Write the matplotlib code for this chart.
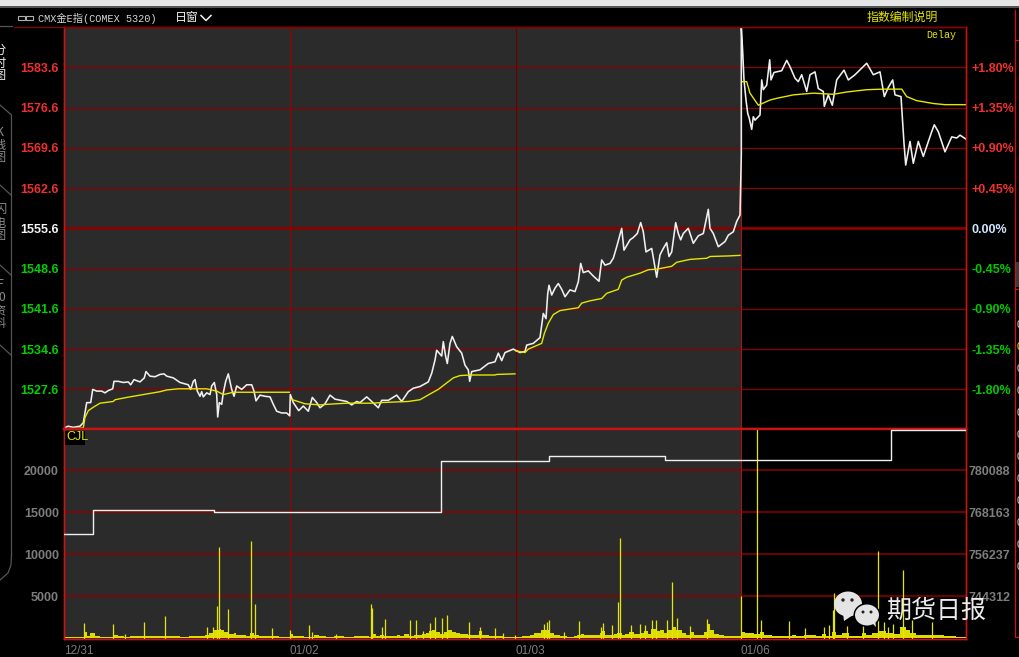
import numpy as np
import matplotlib
matplotlib.use('Agg')
import matplotlib.pyplot as plt
from matplotlib.patches import Ellipse, Rectangle, Polygon

plt.rcParams['font.family'] = ['Liberation Sans', 'Noto Sans CJK SC', 'DejaVu Sans']

# index = one bar per pixel of the x axis, 4 sessions
date_pos = [0, 226, 452, 677]
date_labels = ['12/31', '01/02', '01/03', '01/06']

price_ticks = [1583.6, 1576.6, 1569.6, 1562.6, 1555.6, 1548.6, 1541.6, 1534.6, 1527.6]
pct_ticks = [1.80, 1.35, 0.90, 0.45, 0.00, -0.45, -0.90, -1.35, -1.80]
vol_ticks = [5000, 10000, 15000, 20000]
oi_ticks = [744312, 756237, 768163, 780088]

price_x = [0.7, 4, 9.3, 16, 19.3, 21.3, 22.7, 26.7, 28.7, 32.7, 37.7, 41, 44.3, 48.7, 50, 54.3, 59.3, 64.3, 66.7, 70,
           76, 80.3, 82, 86, 91, 96, 100, 102.7, 109.3, 116, 124.3, 126.7, 129.3, 131, 133.3, 136, 137.7, 139.3, 142.7, 146,
           147.7, 150.3, 152.7, 153.7, 155.3, 157.7, 159.3, 161.7, 164.3, 167.7, 170, 172.7, 177.7, 182.7, 187.7, 190, 192, 196, 201, 206,
           209.3, 212.7, 217.7, 222.7, 225.7, 226.3, 229.3, 234.7, 239.3, 244.3, 248.3, 252.7, 256, 261, 266, 271, 282.7, 287.7, 292.7, 296,
           302.7, 307.7, 314.3, 317.7, 324.3, 332.7, 337.7, 344.3, 349.3, 356, 364.3, 367.7, 371, 372.7, 377.7, 379.3, 381.7, 383.3, 386, 388.3,
           392.7, 397.7, 401, 404.3, 405.7, 407.7, 416, 424.3, 431, 434.3, 437.7, 441, 449.3, 456, 461, 462.7, 469.3, 476, 479.3, 482,
           483.7, 485, 487.7, 491, 494.3, 497.7, 501, 506, 511, 514.3, 516.7, 519.3, 524.3, 529.3, 535, 537.7, 541, 546, 549.3, 552.7,
           557.7, 560, 566, 569.3, 573.3, 576.7, 579.3, 582, 587.7, 590, 592.7, 596, 599.3, 602.7, 605, 607.7, 611.7, 614.3, 616.7, 619.3,
           624.3, 629.3, 634.3, 639.3, 644.3, 646, 649.3, 654.3, 661, 664.3, 669.3, 672.7, 676, 677.3, 677.3, 678.7, 680, 682, 683.7, 685.3,
           687.7, 689.3, 691, 696, 697.7, 699.3, 702.7, 705.7, 707, 710, 717.7, 722.7, 726, 731, 734.3, 737.7, 742.7, 746, 751, 754.3,
           759.3, 760.3, 764.3, 768.3, 772.7, 780, 784.3, 791, 802.7, 809.3, 816, 820.3, 824.3, 828.7, 831, 837, 838.3, 840, 841.7, 846,
           849.3, 854.3, 859.3, 867.7, 870.3, 874.3, 881, 887.7, 892.7, 896, 902]
price_y = [1520.9, 1521.2, 1521.0, 1521.2, 1521.8, 1523.8, 1525.3, 1525.3, 1527.6, 1527.3, 1527.3, 1527.0, 1527.4, 1527.7, 1529.0, 1529.0, 1528.8, 1528.9, 1528.4, 1529.3,
           1528.9, 1529.6, 1530.7, 1529.9, 1529.8, 1530.2, 1530.3, 1529.9, 1529.6, 1528.8, 1528.4, 1527.6, 1529.0, 1529.3, 1527.3, 1526.4, 1527.2, 1526.3, 1527.0, 1526.7,
           1528.2, 1528.8, 1526.7, 1522.8, 1525.3, 1525.0, 1527.0, 1529.0, 1530.3, 1527.6, 1526.4, 1528.2, 1527.6, 1528.4, 1528.4, 1527.3, 1525.6, 1526.6, 1526.4, 1526.3,
           1525.0, 1523.8, 1523.5, 1523.5, 1523.0, 1526.7, 1525.3, 1523.9, 1524.7, 1523.8, 1526.2, 1525.3, 1524.4, 1525.1, 1526.6, 1525.9, 1525.5, 1524.9, 1525.5, 1525.3,
           1526.3, 1525.5, 1524.4, 1525.7, 1525.7, 1526.6, 1525.5, 1527.2, 1527.8, 1528.1, 1528.9, 1530.4, 1532.7, 1534.4, 1533.4, 1535.9, 1533.3, 1532.1, 1535.6, 1536.8,
           1535.0, 1533.9, 1531.8, 1531.0, 1529.0, 1530.7, 1531.0, 1532.1, 1532.4, 1533.9, 1532.6, 1534.0, 1534.6, 1534.0, 1534.2, 1535.3, 1535.6, 1536.6, 1540.8, 1539.9,
           1544.2, 1545.7, 1544.0, 1545.2, 1546.0, 1545.0, 1543.7, 1544.9, 1544.6, 1546.3, 1549.5, 1547.9, 1548.2, 1547.3, 1546.4, 1550.1, 1549.2, 1549.5, 1550.4, 1552.4,
           1555.6, 1551.8, 1553.6, 1554.0, 1554.7, 1556.6, 1555.0, 1551.5, 1552.1, 1549.8, 1547.1, 1551.0, 1552.1, 1553.1, 1550.7, 1551.5, 1556.6, 1554.7, 1553.6, 1554.7,
           1555.6, 1553.0, 1554.3, 1554.7, 1558.9, 1555.6, 1554.7, 1552.4, 1553.3, 1554.4, 1555.0, 1556.8, 1557.9, 1568.4, 1590.6, 1586.3, 1581.4, 1577.9, 1575.6, 1574.7,
           1572.8, 1575.0, 1574.4, 1575.3, 1581.4, 1579.7, 1580.5, 1584.9, 1581.4, 1582.7, 1583.0, 1584.8, 1583.7, 1581.7, 1581.1, 1582.3, 1579.4, 1582.3, 1582.8, 1579.9,
           1579.4, 1576.8, 1578.8, 1577.0, 1581.4, 1583.1, 1581.4, 1582.3, 1584.3, 1582.3, 1582.8, 1578.5, 1580.1, 1581.4, 1578.8, 1578.5, 1575.0, 1570.4, 1566.6, 1570.7,
           1566.9, 1570.7, 1568.1, 1572.4, 1573.6, 1572.4, 1568.9, 1571.5, 1571.3, 1571.8, 1571.1]

# average line restarts every session
avg1_x = [0.7, 19.3, 21, 24.3, 29.3, 36, 49.3, 51, 62.7, 79.3, 96, 102.7, 114.3, 142.7, 152.7, 159.3, 169.3, 189.3, 225.3]
avg1_y = [1520.7, 1520.9, 1522.7, 1523.9, 1524.5, 1525.2, 1525.5, 1525.8, 1526.2, 1526.7, 1527.2, 1527.5, 1527.7, 1527.7, 1527.3, 1526.7, 1527.1, 1527.1, 1527.1]
avg2_x = [226.7, 241, 256, 262.7, 282.7, 309.3, 316, 344.3, 356, 366, 374.3, 381, 389.3, 396, 406, 431, 432.7, 451]
avg2_y = [1525.9, 1525.1, 1524.9, 1525.0, 1525.2, 1525.2, 1525.3, 1525.5, 1525.8, 1526.8, 1527.6, 1528.5, 1529.6, 1530.0, 1530.1, 1530.1, 1530.2, 1530.3]
avg3_x = [451.7, 461, 464.3, 477.7, 480.3, 484.3, 489.3, 496, 514.3, 517.7, 526, 537.7, 542.7, 554.3, 557.7, 562.7, 576, 584.3, 592.7, 607.7, 612.7, 626, 642.7, 646, 664.3, 676]
avg3_y = [1534.3, 1534.0, 1534.6, 1535.6, 1537.3, 1539.1, 1540.6, 1541.3, 1541.8, 1542.6, 1543.0, 1543.4, 1544.3, 1545.0, 1546.6, 1547.1, 1547.8, 1548.4, 1548.5, 1549.0, 1549.7, 1550.2, 1550.4, 1550.7, 1550.8, 1550.9]
avg4_x = [678.7, 682.7, 686, 694.3, 706, 712.7, 729.3, 749.3, 769.3, 782.7, 802.7, 819.3, 837.7, 842.7, 852.7, 869.3, 881, 902]
avg4_y = [1581.1, 1581.1, 1579.1, 1577.0, 1577.9, 1578.2, 1578.8, 1579.1, 1578.9, 1579.3, 1579.7, 1579.8, 1579.8, 1578.5, 1577.8, 1577.3, 1577.1, 1577.1]

# open interest steps
oi_x = [0, 29, 150, 377, 485, 601, 677, 827, 902]
oi_y = [762058, 768731, 768305, 782785, 784063, 783069, 782927, 791587, 791587]

# volume: tall single bars
spike_x = [20, 49, 61, 80, 101, 143, 149, 153, 155, 164, 187, 191, 208, 226, 245, 248, 272, 307, 308, 318, 321,
           346, 352, 359, 366, 371, 378, 383, 405, 416, 431, 439, 451, 480, 483, 485, 500, 515, 537, 539, 548, 554, 556,
           567, 576, 581, 588, 592, 603, 608, 613, 626, 643, 677,
           693, 697, 725, 741, 760, 765, 769, 770, 783, 799, 814, 820, 824, 829, 839, 848, 868]
spike_v = [1640, 1517, 410, 1800, 2500, 1150, 1150, 3730, 10700, 3360, 11400, 3980, 1025, 900, 1400, 660, 410, 3980, 3490, 1150, 2130,
           2000, 2000, 700, 1640, 2380, 2250, 2620, 1760, 1150, 1025, 530, 290, 1500, 1760, 2000, 650, 1890, 1150, 1640, 1400, 4220, 11790,
           1400, 1520, 1400, 2000, 2000, 2000, 6550, 2250, 1270, 2130, 4840,
           24900, 2060, 1950, 1070, 1190, 1470, 3250, 5280, 1270, 1470, 10280, 1830, 1190, 1590, 8000, 2060, 1750]

# volume: low background level
base_x = [0, 20, 23, 26, 31, 36, 50, 54, 60, 66, 72, 82, 90, 100, 110, 116, 125, 131, 136, 141, 145, 150, 155, 157, 160,
          165, 170, 172, 182, 186, 190, 195, 205, 215, 226, 229, 240, 250, 255, 262, 270, 280, 290, 305, 308, 312, 316, 320,
          325, 333, 336, 340, 345, 350, 358, 362, 365, 368, 372, 376, 380, 384, 388, 392, 396, 404, 408, 415, 418, 425, 432,
          440, 451, 458, 466, 470, 477, 485, 490, 496, 503, 510, 513, 517, 520, 530, 536, 538, 541, 550, 553, 558, 561, 565,
          570, 576, 580, 584, 587, 592, 596, 600, 604, 608, 612, 618, 622, 626, 630, 636, 640, 643, 646, 650, 655, 660, 665,
          677, 681, 690, 696, 700, 708, 720, 728, 732, 740, 745, 752, 758, 762, 768, 772, 778, 785, 798, 802, 808, 815, 822,
          830, 836, 842, 846, 852, 858, 870, 880, 892, 902]
base_v = [20, 560, 160, 450, 150, 50, 200, 90, 60, 120, 70, 120, 90, 120, 100, 60, 150, 80, 150, 300, 450, 800, 1000, 800, 600,
          350, 500, 300, 150, 500, 250, 80, 100, 60, 400, 100, 50, 250, 120, 50, 120, 60, 90, 60, 400, 100, 250, 170,
          150, 200, 150, 350, 120, 200, 350, 500, 700, 900, 600, 350, 600, 800, 600, 450, 350, 300, 250, 700, 250, 100, 150,
          60, 30, 100, 250, 450, 800, 500, 250, 150, 60, 100, 200, 350, 200, 250, 500, 700, 300, 400, 500, 250, 350, 600,
          350, 500, 700, 400, 1000, 700, 800, 500, 800, 1200, 900, 500, 300, 600, 250, 200, 600, 1600, 800, 350, 200, 150, 100,
          600, 450, 350, 600, 300, 150, 100, 200, 80, 300, 200, 100, 350, 100, 550, 300, 500, 150, 500, 300, 450, 700, 450,
          350, 1200, 900, 500, 300, 250, 200, 100, 60, 60]

DPI = 100
W, H = 1020, 657
RED = '#8c0000'
FRAME = '#c81414'
PANEL = '#2b2b2b'
YELLOW = '#e6e600'
GREY = '#7d7d7d'
VOL_FLOOR = 170  # the bars stand on the yellow line, just above the frame
GRID_V = {226: '#9a0000', 452: '#680000', 677: '#b01010'}


def px_axes(left, top, right, bottom):
    return fig.add_axes([left / W, 1 - bottom / H, (right - left) / W, (bottom - top) / H])


fig = plt.figure(figsize=(W / DPI, H / DPI), dpi=DPI, facecolor='black')

# price pane
ax = px_axes(64, 27, 966, 428.5)
ax.set_facecolor('black')
ax.set_xlim(0, 902)
ax.set_ylim(1520.8, 1590.6)
ax.axvspan(0, date_pos[3], color=PANEL, lw=0, zorder=0)
for p in price_ticks:
    ax.axhline(p, color=RED, lw=2.0 if p == 1555.6 else 0.9, zorder=1)
for d in date_pos[1:]:
    ax.axvline(d, color=GRID_V[d], lw=0.8, zorder=1)
ax.plot(price_x, price_y, color='#f0f0f0', lw=1.15, zorder=3)
for xs, ys in [(avg1_x, avg1_y), (avg2_x, avg2_y), (avg3_x, avg3_y), (avg4_x, avg4_y)]:
    ax.plot(xs, ys, color=YELLOW, lw=1.0, zorder=4)
ax.set_xticks([])
ax.set_yticks(price_ticks)
ax.set_yticklabels(['%.1f' % p for p in price_ticks], fontsize=9, fontweight='bold')
for p, lab in zip(price_ticks, ax.get_yticklabels()):
    lab.set_color('#f03030' if p > 1555.6 else '#f4f4f4' if p == 1555.6 else '#00d000')
ax.tick_params(axis='y', length=0, pad=3.6)

ax_pct = ax.twinx()
ax_pct.set_ylim((1520.8 - 1555.6) / 1555.6 * 100, (1590.6 - 1555.6) / 1555.6 * 100)
ax_pct.set_yticks(pct_ticks)
ax_pct.set_yticklabels(['%+.2f%%' % v if v != 0 else '0.00%' for v in pct_ticks], fontsize=9, fontweight='bold')
for v, lab in zip(pct_ticks, ax_pct.get_yticklabels()):
    lab.set_color('#f03030' if v > 0 else '#cfe4ff' if v == 0 else '#00c800')
ax_pct.tick_params(axis='y', length=0, pad=4.2)

# volume pane
ax2 = px_axes(64, 429, 966, 638.5)
ax2.set_facecolor('black')
ax2.set_xlim(0, 902)
ax2.set_ylim(0, 24940)
ax2.axvspan(0, date_pos[3], color=PANEL, lw=0, zorder=0)
for v in vol_ticks:
    ax2.axhline(v, color=RED, lw=1.1, zorder=1)
for d in date_pos[1:]:
    ax2.axvline(d, color=GRID_V[d], lw=0.8, zorder=1)
ax2.fill_between(base_x, 0, np.array(base_v) + VOL_FLOOR, step='post', color='#dcdc00', lw=0, zorder=3)
ax2.vlines(spike_x, 0, np.array(spike_v) + VOL_FLOOR, color=YELLOW, lw=0.9, zorder=3)
ax2.set_xticks(date_pos)
ax2.set_xticklabels(date_labels, fontsize=8.5, color=GREY, ha='left')
ax2.set_yticks(vol_ticks)
ax2.set_yticklabels([str(v) for v in vol_ticks], fontsize=9, fontweight='bold', color=GREY)
ax2.tick_params(axis='x', length=0, pad=4.5)
ax2.tick_params(axis='y', length=0, pad=3.6)

ax_oi = ax2.twinx()
oi_per_px = 11925.0 / 42
ax_oi.set_ylim(744312 - (638.5 - 596.5) * oi_per_px, 744312 + (596.5 - 429) * oi_per_px)
ax_oi.step(oi_x, oi_y, where='post', color='#f0f0f0', lw=1.0, zorder=4)
ax_oi.set_yticks(oi_ticks)
ax_oi.set_yticklabels([str(v) for v in oi_ticks], fontsize=9, fontweight='bold', color=GREY)
ax_oi.tick_params(axis='y', length=0, pad=2)

for a in [ax, ax_pct, ax2, ax_oi]:
    for s in a.spines.values():
        s.set_color(FRAME)
        s.set_linewidth(1.0)
for a in [ax, ax_pct]:
    a.spines['top'].set_color(RED)
    a.spines['bottom'].set_linewidth(1.6)
for a in [ax2, ax_oi]:
    a.spines['top'].set_linewidth(1.6)

# window furniture, in pixel coordinates
ov = fig.add_axes([0, 0, 1, 1], zorder=10)
ov.set_xlim(0, W)
ov.set_ylim(H, 0)
ov.axis('off')
ov.patch.set_alpha(0)

ov.add_patch(Rectangle((0, 0), W, 5.5, color='#e6e6e6', lw=0))
ov.add_patch(Rectangle((0, 5.5), W, 2.5, color='#555555', lw=0))
ov.plot([14, 64], [27, 27], color=RED, lw=0.9)

# link icon
ov.add_patch(Rectangle((18.5, 16), 7, 4, fill=False, ec='#b0b0b0', lw=0.8))
ov.add_patch(Rectangle((26, 16), 7, 4, fill=False, ec='#b0b0b0', lw=0.8))
ov.text(38, 18, 'CMX金E指(COMEX 5320)', color='#d8d8d8', fontsize=7.4, va='center',
        family=['Liberation Mono', 'Noto Sans CJK SC'])
ov.text(175, 18, '日窗', color='#f0f0f0', fontsize=8.6, va='center', family=['Noto Sans CJK SC'])
ov.plot([201, 206, 211], [15.5, 20.5, 15.5], color='#f0f0f0', lw=1.1)
ov.text(867, 17, '指数编制说明', color=YELLOW, fontsize=8.6, va='center', family=['Noto Sans CJK SC'])
ov.text(926, 35, 'Delay', color=YELLOW, fontsize=7.2, va='center', family=['Liberation Mono'])

ov.add_patch(Rectangle((65, 430.5), 20, 14, color='black', lw=0))
ov.text(66.5, 437.5, 'CJL', color=YELLOW, fontsize=9, va='center')

# left tabs, glyphs stacked upright and cut by the window edge
ov.plot([0, 12], [26, 26], color='#555555', lw=0.9)
ov.plot([0, 11.5, 11.5], [105, 115, 555], color='#555555', lw=0.9)
ov.plot([11.5, 11, 8, 0], [555, 565, 573, 580], color='#555555', lw=0.9)
for y0, y1 in [(185, 195), (265, 275), (345, 355)]:
    ov.plot([0, 11], [y0, y1], color='#555555', lw=0.9)
for label, y, col in [('分\n时\n图', 63, '#f0f0f0'), ('K\n线\n图', 145, '#8a8a8a'),
                      ('闪\n电\n图', 223, '#8a8a8a'), ('F\n10\n资\n料', 304, '#8a8a8a')]:
    ov.text(0, y, label, color=col, fontsize=8.8, ha='center', va='center', linespacing=1.0,
            family=['Noto Sans CJK SC'])

# right panel, cut off by the window edge
ov.plot([1015.5, 1015.5, 1020], [10, 637, 637], color=FRAME, lw=0.9)
ov.plot([1015.5, 1020], [40, 40], color=FRAME, lw=0.9)
ov.plot([1015.5, 1020], [289, 289], color=FRAME, lw=0.9)
ov.add_patch(Rectangle((1016, 262), 4, 25, color='#3a3a3a', lw=0))
for i, y in enumerate(np.arange(325.5, 570, 22)):
    ov.text(1017, y, '0', color=YELLOW if i == 1 else '#d0d0d0', fontsize=8, va='center', clip_on=True)
for y in [60, 78, 100, 120, 140, 160, 180, 200, 222]:
    ov.text(1017, y, '日', color='#e0e0e0', fontsize=8, va='center', family=['Noto Sans CJK SC'], clip_on=True)

# watermark
BUBBLE = '#e4e4e4'
ov.add_patch(Ellipse((848, 604), 28, 25, color=BUBBLE, lw=0))
ov.add_patch(Polygon([[843, 613], [844, 621], [853, 615]], color=BUBBLE, lw=0))
ov.add_patch(Ellipse((867, 615), 27, 24, color='black', lw=0))
ov.add_patch(Ellipse((867, 615), 24, 21, color=BUBBLE, lw=0))
ov.add_patch(Polygon([[871, 622], [876, 627], [875, 619]], color=BUBBLE, lw=0))
for ex, ey, er in [(843, 600, 1.7), (852, 600, 1.7), (863, 612, 1.5), (871, 612, 1.5)]:
    ov.add_patch(Ellipse((ex, ey), er * 2, er * 2, color='#222222', lw=0))
ov.text(886, 610.5, '期货日报', color='#ececec', fontsize=18, va='center', family=['Noto Sans CJK SC'])

fig.savefig('out.png', dpi=DPI, facecolor='black')
